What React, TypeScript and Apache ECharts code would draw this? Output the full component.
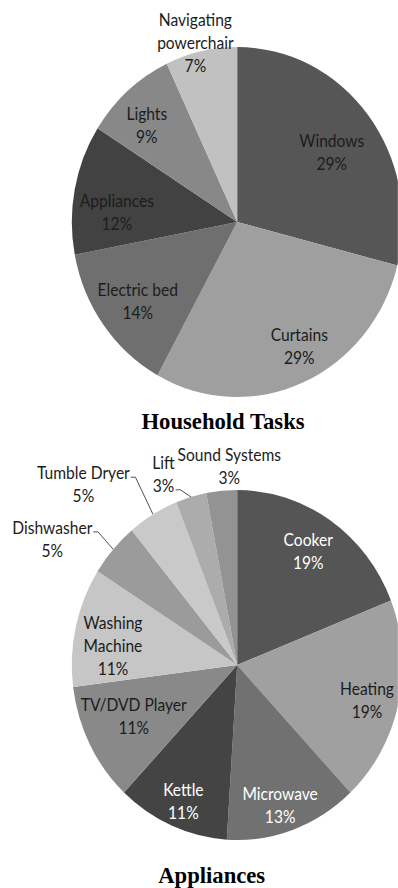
import React, { useEffect, useRef } from "react";
import * as echarts from "echarts";

// ---------- data ----------
const householdTasks = ["Windows", "Curtains", "Electric bed", "Appliances", "Lights", "Navigating\npowerchair"];
const householdShares = [29, 29, 14, 12, 9, 7];

const appliances = [
  "Cooker",
  "Heating",
  "Microwave",
  "Kettle",
  "TV/DVD Player",
  "Washing\nMachine",
  "Dishwasher",
  "Tumble Dryer",
  "Lift",
  "Sound Systems",
];
const applianceShares = [19, 19, 13, 11, 11, 11, 5, 5, 3, 3];

const chartTitles = ["Household Tasks", "Appliances"];

// ---------- styling / layout ----------
const householdColors = ["#565656", "#9f9f9f", "#6f6f6f", "#424242", "#888888", "#c1c1c1"];
const householdTextColors = ["#1c1c1c", "#1c1c1c", "#1c1c1c", "#1c1c1c", "#1c1c1c", "#1c1c1c"];
const householdLabelRadius = [0.7, 0.8, 0.75, 0.73, 0.78, 1.06];
const householdLabelShift = [2.6, -4.6, -0.7, -6.3, -3.1, -1.2];
const householdLeaderRow = [-1, -1, -1, -1, -1, -1];

const applianceColors = [
  "#555555",
  "#a0a0a0",
  "#717171",
  "#444444",
  "#898989",
  "#c6c6c6",
  "#9b9b9b",
  "#c9c9c9",
  "#acacac",
  "#939393",
];
const applianceTextColors = [
  "#ffffff",
  "#1c1c1c",
  "#ffffff",
  "#ffffff",
  "#1c1c1c",
  "#1c1c1c",
  "#1c1c1c",
  "#1c1c1c",
  "#1c1c1c",
  "#1c1c1c",
];
const applianceLabelRadius = [0.78, 0.81, 0.84, 0.84, 0.69, 0.76, 1.33, 1.39, 1.18, 1.14];
const applianceLabelShift = [-0.8, 1.7, 1.8, -0.6, 2.1, -3.9, -8.6, -11.4, -6, 3];
const applianceLeaderRow = [-1, -1, -1, -1, -1, -1, 0, 0, 1, -1];

const SX = 0.945;
const PAGE_W = 398;
const PAGE_H = 888;
const CHART_W = PAGE_W / SX;
const RADIUS = 175;
const LINE_H = 23;
const LABEL_FONT = "Lato";

function buildPie(
  names: string[],
  values: number[],
  colors: string[],
  textColors: string[],
  radiusRatios: number[],
  shifts: number[],
  leaderRows: number[],
  center: [number, number]
) {
  const total = values.reduce((a, b) => a + b, 0);
  const mids: number[] = [];
  let acc = 0;
  values.forEach((v) => {
    mids.push(((acc + v / 2) / total) * 360);
    acc += v;
  });
  return {
    type: "pie",
    center,
    radius: RADIUS,
    startAngle: 90,
    clockwise: true,
    avoidLabelOverlap: false,
    emphasis: { disabled: true },
    itemStyle: { borderWidth: 0 },
    data: names.map((n, i) => ({
      name: n,
      value: values[i],
      itemStyle: { color: colors[i] },
      label: { position: leaderRows[i] >= 0 ? "outside" : "inside", color: textColors[i] },
      labelLine: { show: leaderRows[i] >= 0 },
    })),
    label: {
      show: true,
      formatter: (p: any) => `${p.name}\n${Math.round(p.percent)}%`,
      fontFamily: LABEL_FONT,
      fontSize: 16.5,
      lineHeight: LINE_H,
      align: "center",
    },
    labelLine: {
      length: 10,
      length2: 5,
      smooth: false,
      lineStyle: { color: "#4a4a4a", width: 1 },
    },
    labelLayout: (params: any) => {
      const i = params.dataIndex;
      const a = ((mids[i] + shifts[i]) * Math.PI) / 180;
      const d = RADIUS * radiusRatios[i];
      const x = center[0] + d * Math.sin(a);
      const y = center[1] - d * Math.cos(a);
      const res: any = { x, y, align: "center", verticalAlign: "middle" };
      if (leaderRows[i] >= 0) {
        const w = params.labelRect.width;
        const h = params.labelRect.height;
        const rowY = y - h / 2 + LINE_H * (leaderRows[i] + 0.5) + 4.5;
        const x0 = x + w / 2 + 1;
        const ma = (mids[i] * Math.PI) / 180;
        res.labelLinePoints = [
          [x0, rowY],
          [x0 + 5, rowY],
          [center[0] + RADIUS * Math.sin(ma), center[1] - RADIUS * Math.cos(ma)],
        ];
      }
      return res;
    },
  };
}

export default function App() {
  const ref = useRef<HTMLDivElement>(null);
  useEffect(() => {
    if (!ref.current) return;
    const chart = echarts.init(ref.current, null, { renderer: "svg", width: CHART_W, height: PAGE_H });
    chart.setOption({
      animation: false,
      backgroundColor: "#ffffff",
      graphic: [
        {
          type: "text",
          x: 236,
          y: 421,
          style: {
            text: chartTitles[0],
            fontFamily: "Liberation Serif",
            fontWeight: "bold",
            fontSize: 24,
            fill: "#000000",
            align: "center",
            verticalAlign: "middle",
          },
        },
        {
          type: "text",
          x: 224,
          y: 875,
          style: {
            text: chartTitles[1],
            fontFamily: "Liberation Serif",
            fontWeight: "bold",
            fontSize: 24,
            fill: "#000000",
            align: "center",
            verticalAlign: "middle",
          },
        },
      ],
      series: [
        buildPie(
          householdTasks,
          householdShares,
          householdColors,
          householdTextColors,
          householdLabelRadius,
          householdLabelShift,
          householdLeaderRow,
          [251, 222]
        ),
        buildPie(
          appliances,
          applianceShares,
          applianceColors,
          applianceTextColors,
          applianceLabelRadius,
          applianceLabelShift,
          applianceLeaderRow,
          [251, 665]
        ),
      ],
    });
    return () => chart.dispose();
  }, []);
  return (
    <div
      style={{
        position: "absolute",
        left: 0,
        top: 0,
        width: PAGE_W,
        height: PAGE_H,
        overflow: "hidden",
        background: "#ffffff",
      }}
    >
      <div
        ref={ref}
        style={{
          width: CHART_W,
          height: PAGE_H,
          transform: `scaleX(${SX})`,
          transformOrigin: "0 0",
        }}
      />
    </div>
  );
}
